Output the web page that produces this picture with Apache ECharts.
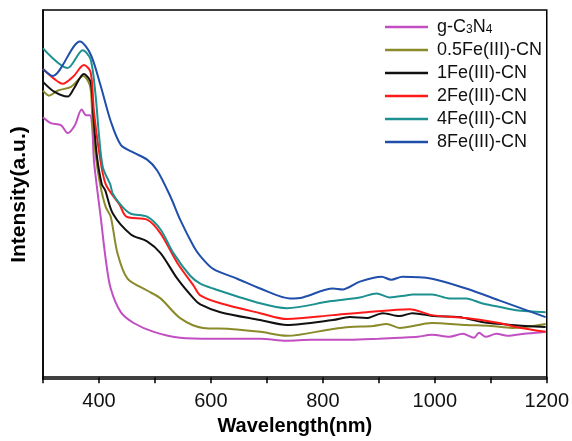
<!DOCTYPE html>
<html>
<head>
<meta charset="utf-8">
<script src="https://cdn.jsdelivr.net/npm/echarts@6/dist/echarts.min.js"></script>
<style>
html,body{margin:0;padding:0;background:#fff;}
#chart{width:572px;height:441px;}
</style>
</head>
<body>
<div id="chart"></div>
<script>
// Series names (legend order)
var seriesNames = ['g-C3N4', '0.5Fe(III)-CN', '1Fe(III)-CN', '2Fe(III)-CN', '4Fe(III)-CN', '8Fe(III)-CN'];

// x-axis tick labels
var xTickLabels = [400, 600, 800, 1000, 1200];

// g-C3N4
var gcnX = [300,314,332,344,357,369,377,384,388,391,397,403,412,421,439,462,498,545,604,688,735,780,848,900,937,970,995,1026,1050,1070,1079,1091,1110,1130,1145,1160,1180,1198];
var gcnY = [264,258,256,248,256,272,266,266,253,220,190,163,120,90,66,55,46,40,39,39,37,38,38,39,40,41,43,41,44,40,45,41,44,42,43,44,45,46];

// 0.5Fe(III)-CN
var fe05X = [300,311,326,350,372,384,388,394,402,412,421,433,451,486,510,545,586,634,688,736,818,848,890,914,937,995,1056,1100,1138,1198];
var fe05Y = [291,286,291,295,306,296,266,226,196,173,163,126,100,88,80,60,50,49,46,42,49,51,52,54,50,55,53,52,50,54];

// 1Fe(III)-CN
var fe1X = [300,320,344,355,373,385,390,396,405,411,425,457,486,510,540,569,581,617,688,736,818,848,878,907,937,960,1000,1043,1084,1138,1198];
var fe1Y = [300,290,285,293,308,300,266,226,196,190,166,145,138,126,100,80,74,66,58,53,58,61,60,65,62,65,62,61,56,53,51];

// 2Fe(III)-CN
var fe2X = [300,320,335,355,373,385,391,400,412,437,449,486,510,540,569,581,617,688,736,818,878,955,995,1056,1115,1145,1198];
var fe2Y = [313,303,298,306,317,310,270,230,196,175,163,160,146,116,93,83,75,65,59,63,66,69,63,60,55,51,46];

// 4Fe(III)-CN
var fe4X = [300,344,371,385,394,400,407,420,425,442,457,486,510,533,563,581,604,688,736,812,866,896,919,949,960,995,1026,1056,1084,1110,1145,1198];
var fe4Y = [334,314,332,323,286,246,213,196,186,173,166,163,150,126,103,95,90,75,70,77,81,85,81,83,84,84,80,80,75,72,68,66];

// 8Fe(III)-CN
var fe8X = [300,317,366,385,403,421,439,462,486,504,528,545,569,581,604,647,688,741,764,818,835,866,905,922,942,995,1056,1115,1198];
var fe8Y = [313,306,341,328,296,260,236,228,221,210,183,160,133,123,110,100,90,80,81,90,89,97,102,99,102,100,90,78,61];

var seriesX = [gcnX, fe05X, fe1X, fe2X, fe4X, fe8X];
var seriesY = [gcnY, fe05Y, fe1Y, fe2Y, fe4Y, fe8Y];
var colors = ['#c24fc2', '#8a8a2a', '#111111', '#ff1a1a', '#1d9090', '#1f4faa'];

function pairs(xs, ys) {
  var out = [];
  for (var i = 0; i < xs.length; i++) out.push([xs[i], ys[i]]);
  return out;
}

var series = seriesNames.map(function (name, i) {
  return {
    name: name,
    type: 'line',
    data: pairs(seriesX[i], seriesY[i]),
    symbol: 'none',
    smooth: 0.3,
    color: colors[i],
    lineStyle: { width: 2, color: colors[i] },
    animation: false
  };
});

var FONT = 'Liberation Sans, Arial, sans-serif';
var chart = echarts.init(document.getElementById('chart'), null, { renderer: 'canvas' });
chart.setOption({
  backgroundColor: '#ffffff',
  animation: false,
  textStyle: { fontFamily: FONT },
  grid: {
    left: 43, right: 23, top: 10, bottom: 56,
    show: true, borderColor: '#000', borderWidth: 1.5, backgroundColor: 'transparent'
  },
  legend: {
    orient: 'vertical',
    left: 380,
    top: 13,
    icon: 'rect',
    itemWidth: 43,
    itemHeight: 2.5,
    itemGap: 5,
    data: seriesNames,
    formatter: function (name) {
      if (name === 'g-C3N4') return '{n|g-C}{s|3}{n|N}{s|4}';
      return name;
    },
    textStyle: {
      fontSize: 18,
      color: '#111',
      padding: [0, 0, 0, 4],
      fontFamily: FONT,
      rich: {
        n: { fontSize: 18, color: '#111', fontFamily: FONT },
        s: { fontSize: 12, color: '#111', fontFamily: FONT, verticalAlign: 'bottom', padding: [6, 0, 0, 0] }
      }
    }
  },
  xAxis: {
    type: 'value',
    min: 300,
    max: 1200,
    interval: 100,
    name: 'Wavelength(nm)',
    nameLocation: 'middle',
    nameGap: 36,
    nameTextStyle: { fontSize: 20, fontWeight: 'bold', color: '#000', fontFamily: FONT },
    axisLine: { show: true, lineStyle: { color: '#000', width: 1.5 } },
    axisTick: { show: true, inside: false, length: 6, lineStyle: { color: '#000', width: 1.5 } },
    axisLabel: {
      margin: 12,
      fontSize: 20,
      color: '#111',
      fontFamily: FONT,
      formatter: function (v) { return xTickLabels.indexOf(v) >= 0 ? String(v) : ''; }
    },
    splitLine: { show: false }
  },
  yAxis: {
    type: 'value',
    min: -2,
    max: 373,
    name: 'Intensity(a.u.)',
    nameLocation: 'middle',
    nameGap: 13,
    nameTextStyle: { fontSize: 21, fontWeight: 'bold', color: '#000', fontFamily: FONT },
    axisLine: { show: true, lineStyle: { color: '#000', width: 1.5 } },
    axisTick: { show: false },
    axisLabel: { show: false },
    splitLine: { show: false }
  },
  series: series
});
</script>
</body>
</html>
